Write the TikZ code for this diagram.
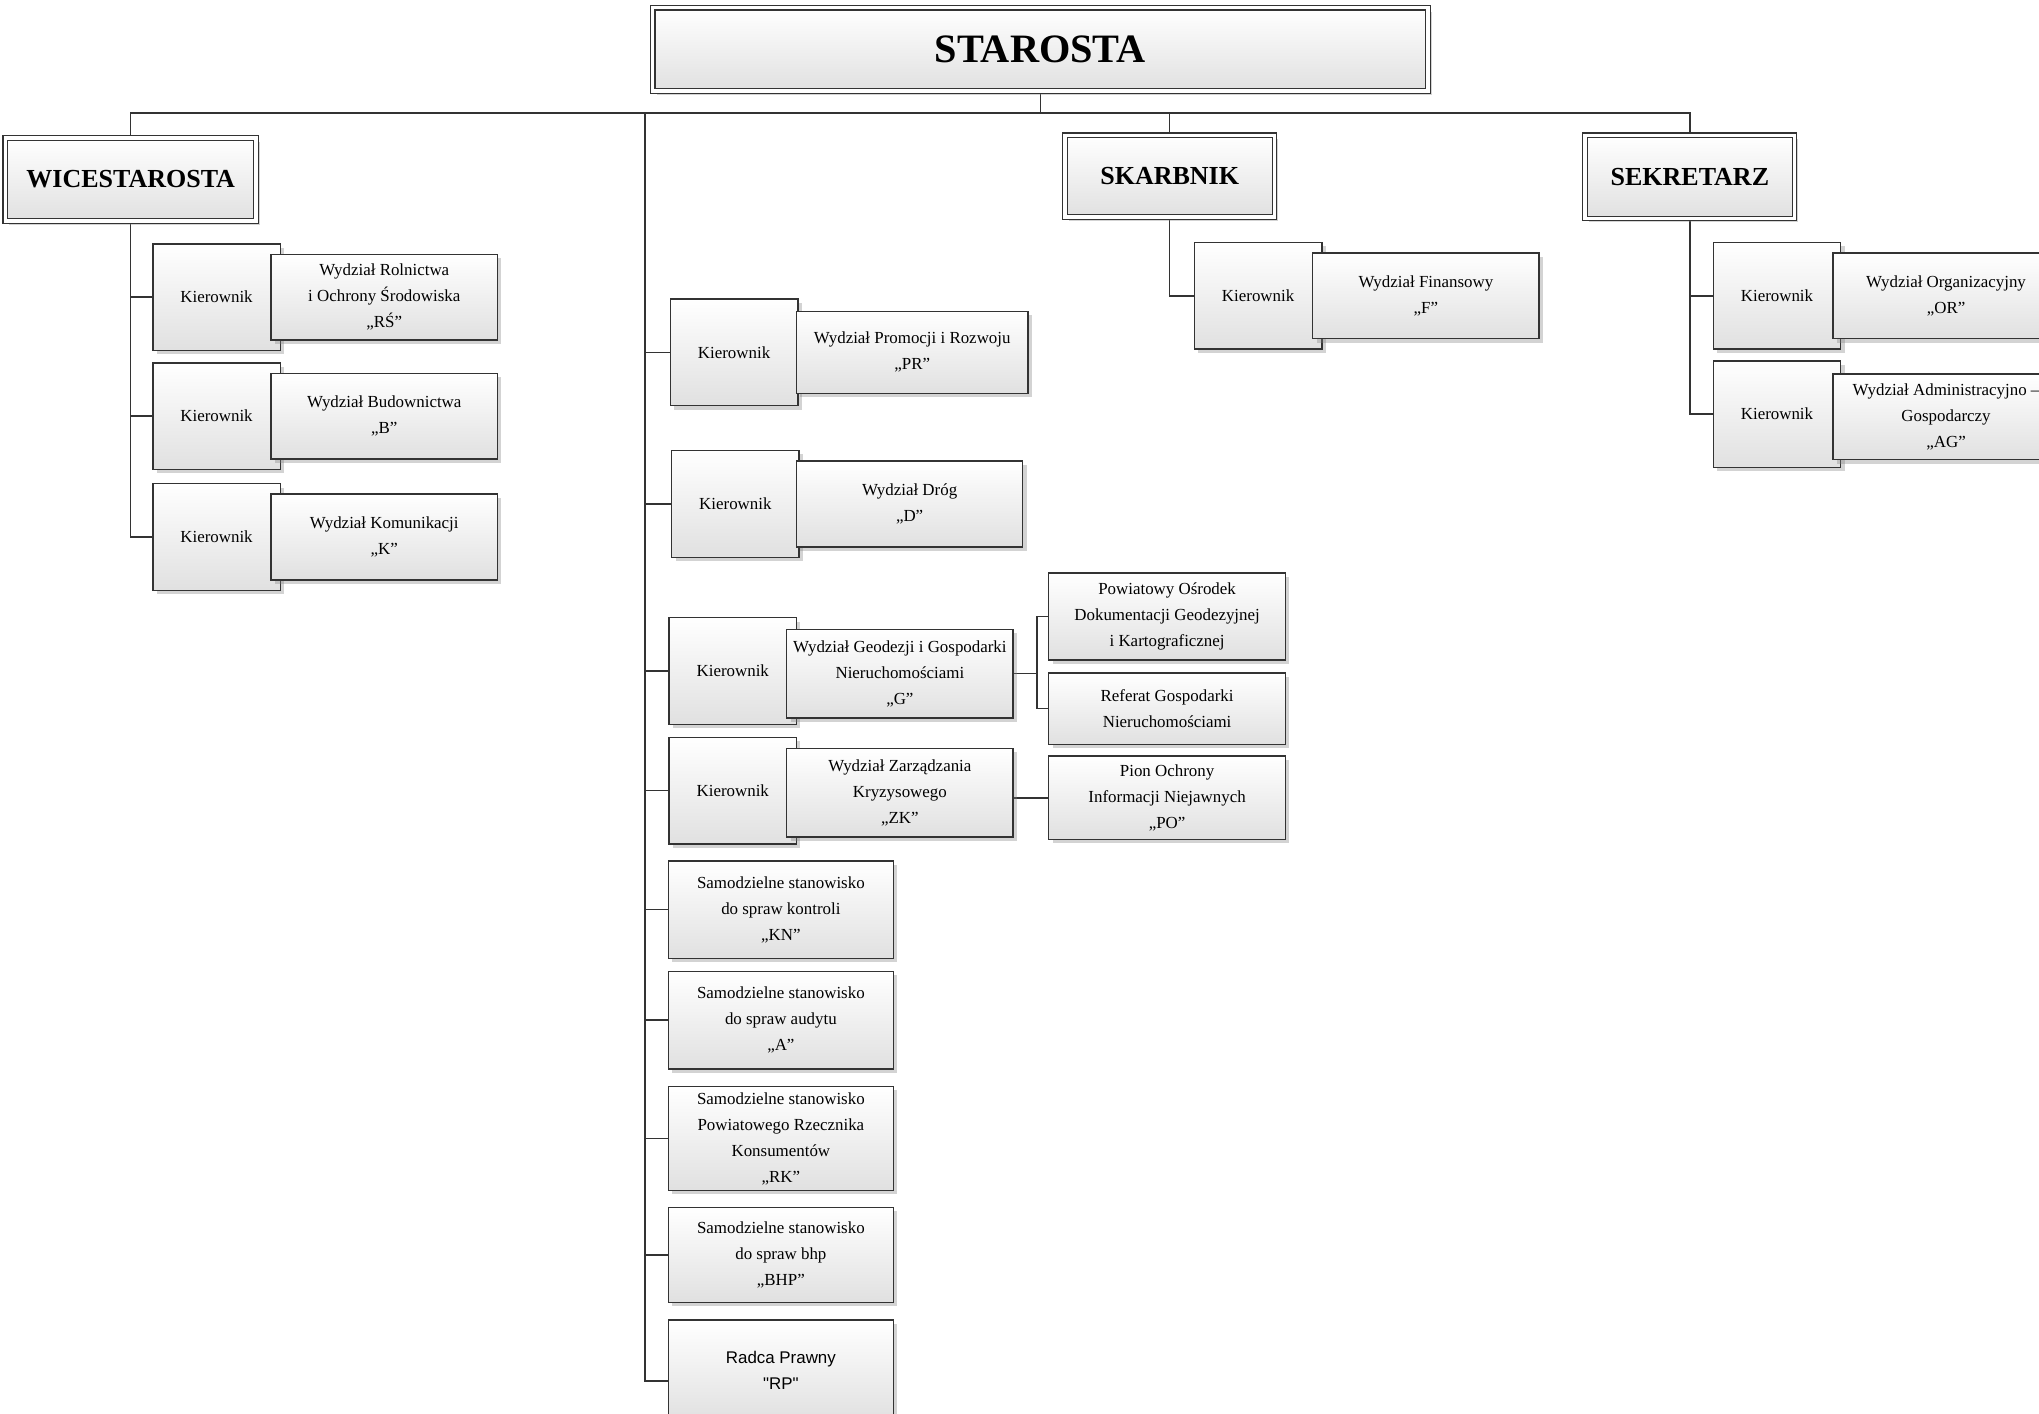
\documentclass[tikz,border=0pt]{standalone}
\usepackage{fontspec}
\setmainfont{Liberation Serif}
\newfontfamily\arialfont{Liberation Sans}
\usetikzlibrary{positioning,shadows,backgrounds}

\begin{document}
\begin{tikzpicture}[on grid,
    box/.style={draw=black!80, line width=1.1pt, top color=white, bottom color=black!12,
      drop shadow={shadow xshift=3pt, shadow yshift=-3pt, opacity=.35},
      inner sep=2pt, align=center, font=\fontsize{13}{20}\selectfont},
    head/.style={box, double, double distance=2.6pt, line width=.9pt,
      font=\bfseries\fontsize{20}{24}\selectfont},
    kier/.style={box, minimum width=98pt, minimum height=82pt},
    wydz/.style={box, minimum width=174pt, minimum height=66pt},
    sam/.style={box, minimum width=173pt, minimum height=75pt},
    conn/.style={draw=black!80, line width=1.1pt}]
  \useasboundingbox (0,0) rectangle (1568pt,-1087pt);
  \clip (0,0) rectangle (1568pt,-1087pt);

  % kierownictwo
  \node[head, minimum width=596pt, minimum height=64pt,
    font=\bfseries\fontsize{31}{36}\selectfont] (staro) at (800pt,-38pt) {STAROSTA};
  \node[head, minimum width=193pt, minimum height=64pt] (wice) at (100.5pt,-138pt) {WICESTAROSTA};
  \node[head, minimum width=161pt, minimum height=63pt] (skarb) at (899.5pt,-135.5pt) {SKARBNIK};
  \node[head, minimum width=161pt, minimum height=64pt] (sekr) at (1299.5pt,-136pt) {SEKRETARZ};
  \coordinate (bus) at (800pt,-87pt);
  \coordinate (trunk) at (496pt,-87pt);

  % wicestarosta
  \node[kier] (kRS) [below right=90.5pt and 66pt of wice] {Kierownik};
  \node[wydz] (wRS) [right=129pt of kRS] {Wydział Rolnictwa\\i Ochrony Środowiska\\„RŚ”};
  \node[kier] (kB) [below=91.5pt of kRS] {Kierownik};
  \node[wydz] (wB) [right=129pt of kB] {Wydział Budownictwa\\„B”};
  \node[kier] (kK) [below=93pt of kB] {Kierownik};
  \node[wydz] (wK) [right=129pt of kK] {Wydział Komunikacji\\„K”};

  % starosta
  \node[kier] (kPR) at (564.5pt,-271pt) {Kierownik};
  \node[wydz, minimum width=178pt, minimum height=63pt] (wPR) [right=137pt of kPR] {Wydział Promocji i Rozwoju\\„PR”};
  \node[kier] (kD) [below right=116.5pt and 1pt of kPR] {Kierownik};
  \node[wydz] (wD) [right=134pt of kD] {Wydział Dróg\\„D”};
  \node[kier] (kG) [below left=128.5pt and 2pt of kD] {Kierownik};
  \node[wydz, minimum height=68pt] (wG) [below right=2pt and 128.5pt of kG] {Wydział Geodezji i Gospodarki\\Nieruchomościami\\„G”};
  \node[kier] (kZK) [below=92pt of kG] {Kierownik};
  \node[wydz, minimum height=68pt] (wZK) [below right=1.5pt and 128.5pt of kZK] {Wydział Zarządzania\\Kryzysowego\\„ZK”};
  \node[box, minimum width=182pt, minimum height=67pt] (pod) [above right=44pt and 205.5pt of wG] {Powiatowy Ośrodek\\Dokumentacji Geodezyjnej\\i Kartograficznej};
  \node[box, minimum width=182pt, minimum height=55pt] (ref) [below=71pt of pod] {Referat Gospodarki\\Nieruchomościami};
  \node[box, minimum width=182pt, minimum height=64pt] (po) [below=68.5pt of ref] {Pion Ochrony\\Informacji Niejawnych\\„PO”};
  \node[sam] (kn) [below right=91.5pt and 37pt of kZK] {Samodzielne stanowisko\\do spraw kontroli\\„KN”};
  \node[sam] (au) [below=85pt of kn] {Samodzielne stanowisko\\do spraw audytu\\„A”};
  \node[sam, minimum height=80pt] (rk) [below=91pt of au] {Samodzielne stanowisko\\Powiatowego Rzecznika\\Konsumentów\\„RK”};
  \node[sam, minimum height=73pt] (bhp) [below=89.5pt of rk] {Samodzielne stanowisko\\do spraw bhp\\„BHP”};
  \node[sam, minimum height=78pt, font=\arialfont\fontsize{13}{20}\selectfont] (rp) [below=89pt of bhp] {Radca Prawny\\"RP"};

  % skarbnik
  \node[kier] (kF) [below right=92pt and 68pt of skarb] {Kierownik};
  \node[wydz] (wF) [right=129pt of kF] {Wydział Finansowy\\„F”};

  % sekretarz
  \node[kier] (kOR) [below right=91.5pt and 67pt of sekr] {Kierownik};
  \node[wydz] (wOR) [right=130pt of kOR] {Wydział Organizacyjny\\„OR”};
  \node[kier] (kAG) [below=91pt of kOR] {Kierownik};
  \node[wydz] (wAG) [below right=2pt and 130pt of kAG] {Wydział Administracyjno –\\Gospodarczy\\„AG”};

  \begin{scope}[on background layer]
    \draw[conn] (staro.south) -- (bus);
    \draw[conn] (wice.north) |- (bus) -| (sekr.north);
    \draw[conn] (bus -| skarb.north) -- (skarb.north);
    \foreach \n in {kRS,kB,kK} \draw[conn] (wice.south) |- (\n.west);
    \foreach \n in {kPR,kD,kG,kZK,kn,au,rk,bhp} \draw[conn] (trunk) |- (\n.west);
    \draw[conn] (trunk) |- ([yshift=-8pt]rp.west);
    \draw[conn] (wG.east) -- ++(18pt,0) coordinate (gb);
    \draw[conn] (pod.west) -| (gb) |- (ref.west);
    \draw[conn] (po.west) -- (po.west -| wZK.east);
    \draw[conn] (skarb.south) |- (kF.west);
    \foreach \n in {kOR,kAG} \draw[conn] (sekr.south) |- (\n.west);
  \end{scope}
\end{tikzpicture}
\end{document}
